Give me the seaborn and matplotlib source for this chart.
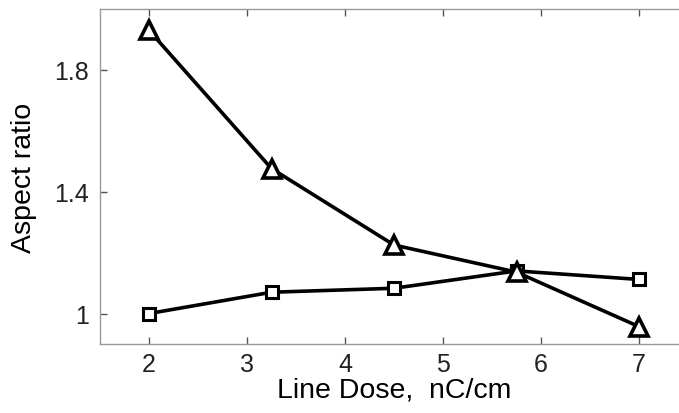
import numpy as np
import pandas as pd
import seaborn as sns
import matplotlib.pyplot as plt

line_dose = [2, 3.25, 4.5, 5.75, 7]
aspect_triangle = [1.93, 1.476, 1.225, 1.136, 0.957]
aspect_square = [1.0, 1.07, 1.083, 1.14, 1.112]

sns.set_style("ticks")
plt.rcParams['font.family'] = ['Liberation Sans', 'DejaVu Sans']
plt.rcParams['text.color'] = 'black'
plt.rcParams['axes.labelcolor'] = 'black'
plt.rcParams['xtick.labelcolor'] = '#222222'
plt.rcParams['ytick.labelcolor'] = '#222222'

fig = plt.figure(figsize=(6.79, 4.14), dpi=100)
ax = fig.add_axes([100 / 679, 1 - 345 / 414, 588 / 679, 335 / 414])

df_tri = pd.DataFrame({"dose": line_dose, "aspect": aspect_triangle})
df_sq = pd.DataFrame({"dose": line_dose, "aspect": aspect_square})

sns.lineplot(data=df_sq, x="dose", y="aspect", ax=ax, color="black", linewidth=2.6,
             marker="s", markersize=8, markerfacecolor="white", markeredgecolor="black",
             markeredgewidth=2.2)
sns.lineplot(data=df_tri, x="dose", y="aspect", ax=ax, color="black", linewidth=2.6,
             marker="^", markersize=13, markerfacecolor="white", markeredgecolor="black",
             markeredgewidth=2.6)

ax.set_xlim(1.5, 7.5)
ax.set_ylim(0.9, 2.0)
ax.set_xticks([2, 3, 4, 5, 6, 7])
ax.set_xticklabels(["2", "3", "4", "5", "6", "7"])
ax.set_yticks([1.0, 1.4, 1.8])
ax.set_yticklabels(["1", "1.4", "1.8"])
ax.tick_params(direction="in", top=True, right=True, labelsize=18, length=5,
               color="#555555", width=1)
ax.tick_params(axis="x", pad=6)
ax.tick_params(axis="y", pad=8)
for s in ax.spines.values():
    s.set_color("#999999")
    s.set_linewidth(1)

ax.set_xlabel("Line Dose,  nC/cm", fontsize=20.5, labelpad=0)
ax.set_ylabel("Aspect ratio", fontsize=20.5, labelpad=12)

fig.savefig("out.png", dpi=100)
